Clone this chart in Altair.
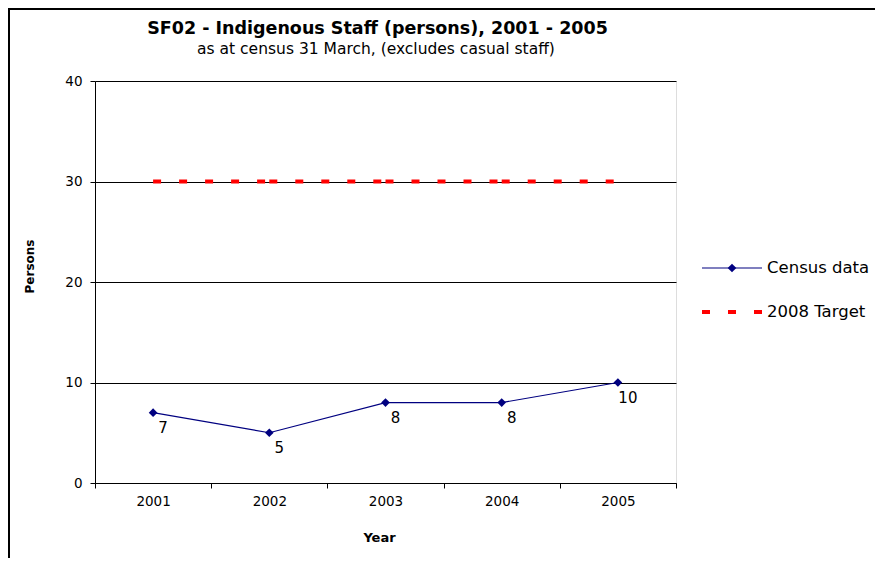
import altair as alt
import pandas as pd

# ---- data ----
years = ["2001", "2002", "2003", "2004", "2005"]
census = [7, 5, 8, 8, 10]
target_value = 30
series_names = ["Census data", "2008 Target"]
y_ticks = [0, 10, 20, 30, 40]
title_text = "SF02 - Indigenous Staff (persons), 2001 - 2005"
subtitle_text = "as at census 31 March, (excludes casual staff)"

FONT = "DejaVu Sans"
NAVY = "#000080"
RED = "#FF0000"

census_df = pd.DataFrame({"year": years, "value": census})

# target line drawn segment by segment (dash pattern restarts per segment, as in the original)
seg_rows = []
for i in range(len(years) - 1):
    seg_rows.append({"year": years[i], "value": target_value, "seg": i})
    seg_rows.append({"year": years[i + 1], "value": target_value, "seg": i})
target_df = pd.DataFrame(seg_rows)

x_enc = alt.X(
    "year:O",
    sort=years,
    scale=alt.Scale(type="band", paddingInner=0, paddingOuter=0, domain=years),
    axis=alt.Axis(
        title="Year",
        labelAngle=0,
        tickBand="extent",
        tickSize=5,
        labelPadding=6,
        labelFontSize=13.5,
        labelFont=FONT,
        grid=False,
        domainColor="#000000",
        tickColor="#000000",
        titleFont=FONT,
        titleFontSize=13,
        titleFontWeight="bold",
        titleX=284,
        titleY=54,
        titleBaseline="middle",
        titleAlign="center",
    ),
)
y_enc = alt.Y(
    "value:Q",
    scale=alt.Scale(domain=[0, 40], nice=False),
    axis=alt.Axis(
        title="Persons",
        values=y_ticks,
        tickSize=5,
        labelPadding=8,
        labelFontSize=13.5,
        labelFont=FONT,
        grid=True,
        gridColor="#000000",
        gridWidth=1,
        domainColor="#000000",
        tickColor="#000000",
        titleFont=FONT,
        titleFontSize=12,
        titleFontWeight="bold",
        titleAngle=270,
        titleX=-66,
        titleY=185,
        titleAlign="center",
        titleBaseline="middle",
    ),
)

target_line = alt.Chart(target_df).mark_line(
    color=RED, strokeWidth=4, strokeDash=[8, 18], strokeCap="butt"
).encode(x=x_enc, y=y_enc, detail="seg:N")

census_line = alt.Chart(census_df).mark_line(color=NAVY, strokeWidth=1.2).encode(
    x=alt.X("year:O", sort=years), y="value:Q"
)
census_pts = alt.Chart(census_df).mark_point(
    shape="diamond", filled=True, color=NAVY, size=75, opacity=1
).encode(x=alt.X("year:O", sort=years), y="value:Q")
census_lbl = alt.Chart(census_df).mark_text(
    dx=10, dy=15, fontSize=15, font=FONT, color="#000000", baseline="middle"
).encode(x=alt.X("year:O", sort=years), y="value:Q", text="value:Q")

# titles
title_df = pd.DataFrame({"t": [title_text]})
sub_df = pd.DataFrame({"t": [subtitle_text]})
title_mark = alt.Chart(title_df).mark_text(
    font=FONT, fontSize=17.5, fontWeight="bold", align="center", baseline="alphabetic", color="#000"
).encode(x=alt.value(282.5), y=alt.value(-47), text="t:N")
sub_mark = alt.Chart(sub_df).mark_text(
    font=FONT, fontSize=15.5, align="center", baseline="alphabetic", color="#000"
).encode(x=alt.value(281), y=alt.value(-27), text="t:N")

# legend (manual, to mimic the spreadsheet legend)
leg1 = pd.DataFrame({"name": [series_names[0]]})
leg2 = pd.DataFrame({"name": [series_names[1]]})
leg1_line = alt.Chart(leg1).mark_rule(color=NAVY, strokeWidth=1.2).encode(
    x=alt.value(607), x2=alt.value(667), y=alt.value(187)
)
leg1_pt = alt.Chart(leg1).mark_point(
    shape="diamond", filled=True, color=NAVY, size=75, opacity=1
).encode(x=alt.value(637), y=alt.value(187))
leg1_txt = alt.Chart(leg1).mark_text(
    font=FONT, fontSize=16.5, align="left", baseline="middle", color="#000"
).encode(x=alt.value(672), y=alt.value(187), text="name:N")
leg2_line = alt.Chart(leg2).mark_rule(
    color=RED, strokeWidth=4, strokeDash=[8, 18], strokeCap="butt"
).encode(x=alt.value(607), x2=alt.value(667), y=alt.value(231))
leg2_txt = alt.Chart(leg2).mark_text(
    font=FONT, fontSize=16.5, align="left", baseline="middle", color="#000"
).encode(x=alt.value(672), y=alt.value(231), text="name:N")

# outer chart border
border = alt.Chart(leg1).mark_rect(
    fill=None, fillOpacity=0, stroke="#000000", strokeWidth=2
).encode(x=alt.value(-86), x2=alt.value(900), y=alt.value(-72), y2=alt.value(600))

chart = alt.layer(
    border,
    target_line,
    census_line,
    census_pts,
    census_lbl,
    title_mark,
    sub_mark,
    leg1_line,
    leg1_pt,
    leg1_txt,
    leg2_line,
    leg2_txt,
).properties(
    width=581,
    height=402,
    autosize=alt.AutoSizeParams(type="none"),
    padding={"left": 87, "top": 73, "right": 199, "bottom": 75},
    background="#FFFFFF",
).configure_view(
    stroke="#808080", strokeWidth=1
).configure(font=FONT)

chart.save("out.html", embed_options={"renderer": "svg", "actions": False})
